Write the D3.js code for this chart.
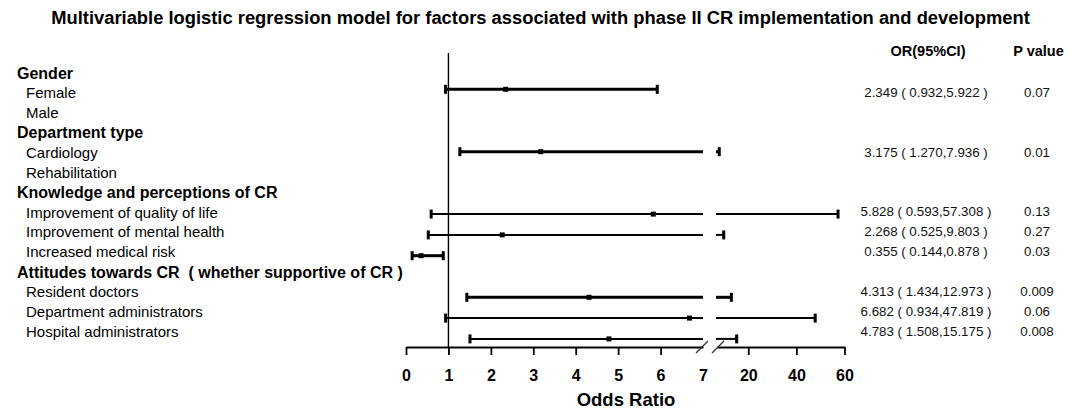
<!DOCTYPE html>
<html>
<head>
<meta charset="utf-8">
<script src="https://cdn.jsdelivr.net/npm/d3@7/dist/d3.min.js"></script>
<style>
  html, body { margin: 0; padding: 0; background: #fff; }
  svg { display: block; font-family: "Liberation Sans", Arial, sans-serif; }
</style>
</head>
<body>
<svg id="chart" width="1084" height="413"></svg>
<script>
// ---------------- DATA ----------------
const titleText = "Multivariable logistic regression model for factors associated with phase II CR implementation and development";
const rowLabels = [
  "Gender", "Female", "Male",
  "Department type", "Cardiology", "Rehabilitation",
  "Knowledge and perceptions of CR", "Improvement of quality of life", "Improvement of mental health", "Increased medical risk",
  "Attitudes towards CR\u00a0\u00a0( whether supportive of CR )", "Resident doctors", "Department administrators", "Hospital administrators"
];
const rowIsGroup = [true, false, false, true, false, false, true, false, false, false, true, false, false, false];
const orValues = [null, 2.349, null, null, 3.175, null, null, 5.828, 2.268, 0.355, null, 4.313, 6.682, 4.783];
const ciLower  = [null, 0.932, null, null, 1.270, null, null, 0.593, 0.525, 0.144, null, 1.434, 0.934, 1.508];
const ciUpper  = [null, 5.922, null, null, 7.936, null, null, 57.308, 9.803, 0.878, null, 12.973, 47.819, 15.175];
const pValues  = [null, "0.07", null, null, "0.01", null, null, "0.13", "0.27", "0.03", null, "0.009", "0.06", "0.008"];
const leftTicks = [0, 1, 2, 3, 4, 5, 6, 7];
const rightTicks = [20, 40, 60];
const breakValue = 7;
const maxValue = 60;
const refValue = 1;
const colHeaderOR = "OR(95%CI)";
const colHeaderP = "P value";
const xAxisTitle = "Odds Ratio";

// ---------------- STYLE ----------------
const thickRows = new Set(["Female", "Cardiology", "Increased medical risk", "Resident doctors"]);

// ---------------- LAYOUT ----------------
const svg = d3.select("#chart");
const axisY = 347;

const xL = d3.scaleLinear().domain([0, breakValue]).range([406, 703]);
const xR = d3.scaleLinear().domain([breakValue, maxValue]).range([717, 844.5]);

const idx = d3.range(rowLabels.length);
const yBar = d3.scaleLinear().domain([0, rowLabels.length - 1]).range([68.5, 68.5 + 13 * 20.8]);
const yLab = d3.scaleLinear().domain([0, rowLabels.length - 1]).range([73, 73 + 13 * 19.9]);

// Title, fitted to its measured span
const title = svg.append("text")
  .attr("x", 540.5).attr("y", 24)
  .attr("text-anchor", "middle")
  .attr("font-weight", "bold")
  .attr("font-size", 16)
  .attr("fill", "#000")
  .text(titleText);
const tw = title.node().getComputedTextLength();
title.attr("font-size", 16 * 979 / tw);

// Column headers
svg.append("text").attr("x", 928).attr("y", 51).attr("dy", "0.35em")
  .attr("text-anchor", "middle").attr("font-weight", "bold").attr("font-size", 14.5)
  .text(colHeaderOR);
svg.append("text").attr("x", 1038.5).attr("y", 51).attr("dy", "0.35em")
  .attr("text-anchor", "middle").attr("font-weight", "bold").attr("font-size", 14.5)
  .text(colHeaderP);

// Row labels
svg.append("g").selectAll("text").data(idx).join("text")
  .attr("x", i => rowIsGroup[i] ? 17 : 26)
  .attr("y", i => yLab(i))
  .attr("dy", "0.35em")
  .attr("font-weight", i => rowIsGroup[i] ? "bold" : "normal")
  .attr("font-size", i => rowIsGroup[i] ? 16 : 15)
  .attr("fill", "#000")
  .text(i => rowLabels[i]);

// OR text and P values
const dataIdx = idx.filter(i => orValues[i] != null);
const f3 = d3.format(".3f");
svg.append("g").selectAll("text").data(dataIdx).join("text")
  .attr("x", 926).attr("y", i => yLab(i) - 0.5).attr("dy", "0.35em")
  .attr("text-anchor", "middle").attr("font-size", 13.3).attr("fill", "#111")
  .text(i => `${f3(orValues[i])} ( ${f3(ciLower[i])},${f3(ciUpper[i])} )`);
svg.append("g").selectAll("text").data(dataIdx).join("text")
  .attr("x", 1037).attr("y", i => yLab(i) - 0.5).attr("dy", "0.35em")
  .attr("text-anchor", "middle").attr("font-size", 13.3).attr("fill", "#111")
  .text(i => pValues[i]);

// Reference line at OR = 1
svg.append("line")
  .attr("x1", xL(refValue)).attr("x2", xL(refValue))
  .attr("y1", 53).attr("y2", axisY)
  .attr("stroke", "#000").attr("stroke-width", 1.4);

// Axes
const axL = d3.axisBottom(xL).tickValues(leftTicks).tickSize(8).tickSizeOuter(0).tickPadding(15)
  .tickFormat(d3.format("d"));
const axR = d3.axisBottom(xR).tickValues(rightTicks).tickSize(8).tickSizeOuter(0).tickPadding(15)
  .tickFormat(d3.format("d"));
const gL = svg.append("g").attr("transform", `translate(0,${axisY})`).call(axL);
const gR = svg.append("g").attr("transform", `translate(0,${axisY})`).call(axR);
[gL, gR].forEach(g => {
  g.select(".domain").attr("stroke", "#000").attr("stroke-width", 1.8);
  g.selectAll(".tick line").attr("stroke", "#000").attr("stroke-width", 1.8);
  g.selectAll(".tick text").attr("font-size", 16).attr("font-weight", "bold")
    .attr("font-family", '"Liberation Sans", Arial, sans-serif').attr("fill", "#000");
});
gL.selectAll(".tick").filter(d => d === breakValue).select("line").remove();

// Break slashes on axis
[xL(breakValue) - 1, xR(breakValue) + 1].forEach(cx => {
  svg.append("line")
    .attr("x1", cx - 6).attr("y1", axisY + 6)
    .attr("x2", cx + 6).attr("y2", axisY - 6)
    .attr("stroke", "#333").attr("stroke-width", 1.2);
});

// Axis title
svg.append("text").attr("x", 626).attr("y", 400).attr("dy", "0.35em")
  .attr("text-anchor", "middle").attr("font-weight", "bold").attr("font-size", 18.5)
  .text(xAxisTitle);

// CI bars
const gBars = svg.append("g");
dataIdx.forEach(i => {
  const y = yBar(i);
  const lo = ciLower[i], hi = ciUpper[i], or = orValues[i];
  const thick = thickRows.has(rowLabels[i]);
  const sw = thick ? 3 : 2;
  const pos = v => v <= breakValue ? xL(v) : xR(v);
  if (lo < breakValue) {
    gBars.append("line")
      .attr("x1", xL(lo)).attr("x2", xL(Math.min(hi, breakValue)))
      .attr("y1", y).attr("y2", y)
      .attr("stroke", "#000").attr("stroke-width", sw);
  }
  if (hi > breakValue) {
    gBars.append("line")
      .attr("x1", xR(Math.max(lo, breakValue)) - 1).attr("x2", xR(hi))
      .attr("y1", y).attr("y2", y)
      .attr("stroke", "#000").attr("stroke-width", sw);
  }
  [lo, hi].forEach(v => {
    gBars.append("rect")
      .attr("x", pos(v) - 1.5).attr("y", y - 4.5)
      .attr("width", 3).attr("height", 9)
      .attr("fill", "#000");
  });
  gBars.append("rect")
    .attr("x", pos(or) - 2.5).attr("y", y - 2.5)
    .attr("width", 5).attr("height", 5)
    .attr("fill", "#000");
});
</script>
</body>
</html>
